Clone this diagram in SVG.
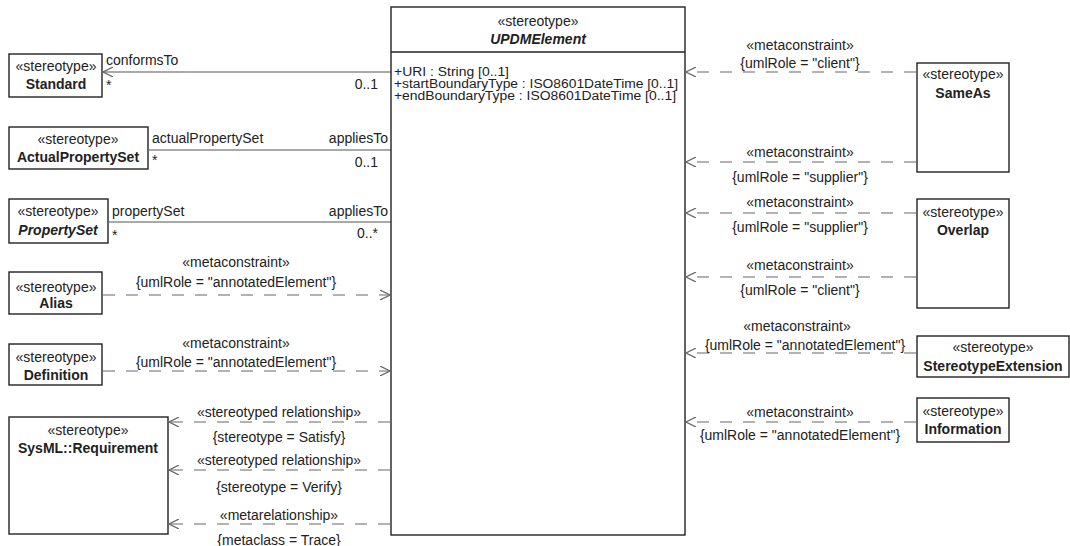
<svg xmlns="http://www.w3.org/2000/svg" width="1070" height="546" viewBox="0 0 1070 546">
<style>
text{font-family:"Liberation Sans",Arial,sans-serif;font-size:14px;fill:#222}
.b{font-weight:bold}
.bi{font-weight:bold;font-style:italic}
.m{text-anchor:middle}
.e{text-anchor:end}
.a{font-size:12.5px}
.box{fill:#fff;stroke:#222;stroke-width:1.4}
.sol{fill:none;stroke:#555;stroke-width:1.2}
.dash{fill:none;stroke:#666;stroke-width:1.2;stroke-dasharray:12,11}
</style>
<defs>
<marker id="open" viewBox="0 0 10 10" refX="10" refY="5" markerWidth="10" markerHeight="10" markerUnits="userSpaceOnUse" orient="auto">
<path d="M0,0 L10,5 L0,10" fill="none" stroke="#666" stroke-width="1.2"/>
</marker>
</defs>
<rect width="1070" height="546" fill="#fff"/>

<g id="connectors">
<line class="sol" x1="391" y1="72" x2="103" y2="72" marker-end="url(#open)"/>
<line class="sol" x1="391" y1="150" x2="149" y2="150"/>
<line class="sol" x1="391" y1="222" x2="109" y2="222"/>
<line class="dash" x1="103" y1="295" x2="390" y2="295" marker-end="url(#open)"/>
<line class="dash" x1="103" y1="371" x2="390" y2="371" marker-end="url(#open)"/>
<line class="dash" x1="390" y1="422" x2="169" y2="422" marker-end="url(#open)"/>
<line class="dash" x1="390" y1="470" x2="169" y2="470" marker-end="url(#open)"/>
<line class="dash" x1="390" y1="524" x2="169" y2="524" marker-end="url(#open)"/>
<line class="dash" x1="916" y1="72" x2="686" y2="72" marker-end="url(#open)"/>
<line class="dash" x1="916" y1="162" x2="686" y2="162" marker-end="url(#open)"/>
<line class="dash" x1="916" y1="213" x2="686" y2="213" marker-end="url(#open)"/>
<line class="dash" x1="916" y1="277" x2="686" y2="277" marker-end="url(#open)"/>
<line class="dash" x1="916" y1="353" x2="686" y2="353" marker-end="url(#open)"/>
<line class="dash" x1="916" y1="422" x2="686" y2="422" marker-end="url(#open)"/>

<text x="106" y="65">conformsTo</text>
<text x="106" y="90">*</text>
<text class="e" x="378" y="89">0..1</text>
<text x="152" y="143">actualPropertySet</text>
<text class="e" x="388" y="143">appliesTo</text>
<text x="152" y="165">*</text>
<text class="e" x="378" y="167">0..1</text>
<text x="112" y="216">propertySet</text>
<text class="e" x="388" y="216">appliesTo</text>
<text x="112" y="240">*</text>
<text class="e" x="378" y="238">0..*</text>

<text class="m" x="236" y="267">«metaconstraint»</text>
<text class="m" x="236" y="287">{umlRole = "annotatedElement"}</text>
<text class="m" x="236" y="348">«metaconstraint»</text>
<text class="m" x="236" y="367">{umlRole = "annotatedElement"}</text>

<text class="m" x="279" y="417">«stereotyped relationship»</text>
<text class="m" x="279" y="442">{stereotype = Satisfy}</text>
<text class="m" x="279" y="465">«stereotyped relationship»</text>
<text class="m" x="279" y="492">{stereotype = Verify}</text>
<text class="m" x="279" y="520">«metarelationship»</text>
<text class="m" x="279" y="545">{metaclass = Trace}</text>

<text class="m" x="800" y="50">«metaconstraint»</text>
<text class="m" x="800" y="68">{umlRole = "client"}</text>
<text class="m" x="800" y="157">«metaconstraint»</text>
<text class="m" x="800" y="182">{umlRole = "supplier"}</text>
<text class="m" x="800" y="207">«metaconstraint»</text>
<text class="m" x="800" y="232">{umlRole = "supplier"}</text>
<text class="m" x="800" y="270">«metaconstraint»</text>
<text class="m" x="800" y="295">{umlRole = "client"}</text>
<text class="m" x="797" y="331">«metaconstraint»</text>
<text class="m" x="805" y="350">{umlRole = "annotatedElement"}</text>
<text class="m" x="800" y="417">«metaconstraint»</text>
<text class="m" x="800" y="440">{umlRole = "annotatedElement"}</text>
</g>

<g id="UPDMElement">
<rect class="box" x="391" y="7" width="294" height="528"/>
<line x1="391" y1="52" x2="685" y2="52" stroke="#222" stroke-width="1.4"/>
<text class="m" x="538" y="26">«stereotype»</text>
<text class="m bi" x="538" y="44">UPDMElement</text>
<text class="a" x="394" y="76" textLength="115" lengthAdjust="spacingAndGlyphs">+URI  : String [0..1]</text>
<text class="a" x="394" y="88" textLength="284" lengthAdjust="spacingAndGlyphs">+startBoundaryType : ISO8601DateTime [0..1]</text>
<text class="a" x="394" y="100" textLength="282" lengthAdjust="spacingAndGlyphs">+endBoundaryType : ISO8601DateTime [0..1]</text>
</g>

<g id="Standard">
<rect class="box" x="9" y="54" width="93" height="43"/>
<text class="m" x="56" y="71">«stereotype»</text>
<text class="m b" x="56" y="89">Standard</text>
</g>
<g id="ActualPropertySet">
<rect class="box" x="9" y="127" width="139" height="42"/>
<text class="m" x="78" y="144">«stereotype»</text>
<text class="m b" x="78" y="162">ActualPropertySet</text>
</g>
<g id="PropertySet">
<rect class="box" x="9" y="199" width="99" height="44"/>
<text class="m" x="58" y="216">«stereotype»</text>
<text class="m bi" x="58" y="235">PropertySet</text>
</g>
<g id="Alias">
<rect class="box" x="9" y="272" width="93" height="42"/>
<text class="m" x="56" y="292">«stereotype»</text>
<text class="m b" x="56" y="308">Alias</text>
</g>
<g id="Definition">
<rect class="box" x="9" y="344" width="93" height="41"/>
<text class="m" x="56" y="362">«stereotype»</text>
<text class="m b" x="56" y="380">Definition</text>
</g>
<g id="SysMLRequirement">
<rect class="box" x="9" y="417" width="159" height="117"/>
<text class="m" x="88" y="435">«stereotype»</text>
<text class="m b" x="88" y="453">SysML::Requirement</text>
</g>

<g id="SameAs">
<rect class="box" x="917" y="63" width="92" height="109"/>
<text class="m" x="963" y="79">«stereotype»</text>
<text class="m b" x="963" y="98">SameAs</text>
</g>
<g id="Overlap">
<rect class="box" x="917" y="199" width="92" height="109"/>
<text class="m" x="963" y="217">«stereotype»</text>
<text class="m b" x="963" y="235">Overlap</text>
</g>
<g id="StereotypeExtension">
<rect class="box" x="917" y="336" width="152" height="41"/>
<text class="m" x="993" y="352">«stereotype»</text>
<text class="m b" x="993" y="371">StereotypeExtension</text>
</g>
<g id="Information">
<rect class="box" x="917" y="398" width="92" height="44"/>
<text class="m" x="963" y="416">«stereotype»</text>
<text class="m b" x="963" y="434">Information</text>
</g>
</svg>
